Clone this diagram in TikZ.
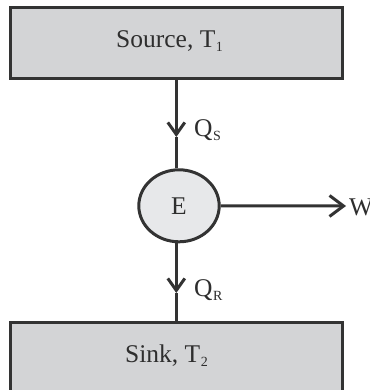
\documentclass[tikz,border=0pt]{standalone}
\usepackage{fontspec}
\setmainfont{Liberation Serif}
\usetikzlibrary{arrows.meta,shapes.geometric}
\definecolor{boxfill}{HTML}{D3D4D6}
\definecolor{efill}{HTML}{E7E8EA}
\definecolor{ink}{HTML}{333333}
\definecolor{txt}{HTML}{2E2E2E}
\newcommand{\subtxt}[1]{\kern0.5pt\raisebox{-4pt}{\fontsize{14}{14}\selectfont #1}}
\begin{document}
\begin{tikzpicture}[x=1pt,y=-1pt,
  box/.style={draw=ink,line width=3pt,fill=boxfill,rectangle,inner sep=0pt},
  engine/.style={draw=ink,line width=3pt,fill=efill,ellipse,inner sep=0pt,
    minimum width=80.4pt,minimum height=72pt,text=txt,font=\fontsize{25.5}{29}\selectfont},
  lbl/.style={inner sep=0pt,text=txt,font=\fontsize{25.5}{29}\selectfont,anchor=base west},
  flow/.style={draw=ink,line width=3pt},
  tipQ/.style={-{Straight Barb[length=12pt,width=17pt]}},
  tipW/.style={-{Straight Barb[length=14pt,width=21pt]}}]
\useasboundingbox (0,0) rectangle (369,390);
\clip (0,0) rectangle (369,390);
\node[box,minimum width=331.7pt,minimum height=71pt] (src) at (176.3,43) {};
\node[box,minimum width=331.7pt,minimum height=80pt] (snk) at (176.3,362.2) {};
\node[engine] (E) at (179,205.8) {E};
\coordinate (qs) at (176.3,137);
\coordinate (qr) at (176.3,293);
\coordinate (w) at (346,206);
\draw[flow,tipQ] (src.south) -- (qs);
\draw[flow] (qs) -- (src.south |- E.north);
\draw[flow,tipQ] (src.south |- E.south) -- (qr);
\draw[flow] (qr) -- (snk.north);
\draw[flow,tipW] (E.east) -- (w);
\node[lbl] (srct) at (116,48) {Source, T\subtxt{1}};
\node[lbl] (snkt) at (125,362) {Sink, T\subtxt{2}};
\node[lbl] (qst) at (194,136) {Q\subtxt{S}};
\node[lbl] (qrt) at (194,296) {Q\subtxt{R}};
\node[lbl] (wt) at (349,215) {W};
\end{tikzpicture}
\end{document}
